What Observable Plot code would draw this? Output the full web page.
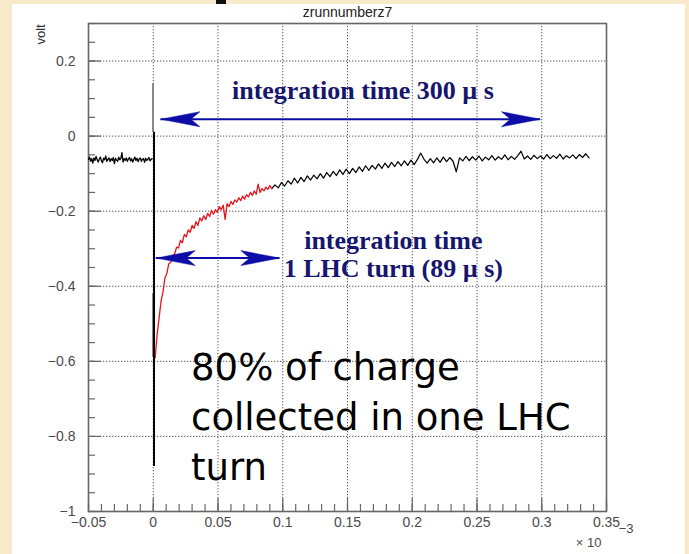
<!DOCTYPE html>
<html><head><meta charset="utf-8">
<script src="https://cdn.jsdelivr.net/npm/d3@7"></script>
<script src="https://cdn.jsdelivr.net/npm/@observablehq/plot@0.6"></script>
<style>
html,body{margin:0;padding:0}
body{width:689px;height:554px;overflow:hidden;position:relative;background:#f9e9cb}
#panel{position:absolute;left:12px;top:4px;width:673px;height:550px;background:#fff}
#blob{position:absolute;left:216px;top:0;width:10px;height:4px;background:#111}
</style></head><body>
<div id="blob"></div>
<div id="panel"></div>
<script>
// ---- axes / ticks ----
const xMajor = [-0.05, 0, 0.05, 0.1, 0.15, 0.2, 0.25, 0.3, 0.35];
const yMajor = [-1, -0.8, -0.6, -0.4, -0.2, 0, 0.2];
const xMinor = d3.range(0, 41).map(i => +(-0.05 + i * 0.01).toFixed(3));
const yMinor = d3.range(0, 27).map(i => +(-1 + i * 0.05).toFixed(3));

// ---- trace: pre-trigger baseline (sampled every preDX from preX0) ----
const preX0 = -0.05, preDX = 0.000833;
const preY = [-0.062,-0.056,-0.067,-0.060,-0.072,-0.058,-0.065,-0.054,-0.063,-0.069,
-0.061,-0.056,-0.066,-0.071,-0.059,-0.063,-0.053,-0.067,-0.062,-0.058,
-0.068,-0.060,-0.065,-0.057,-0.073,-0.059,-0.064,-0.067,-0.056,-0.063,
-0.059,-0.044,-0.069,-0.060,-0.065,-0.058,-0.067,-0.061,-0.057,-0.066,
-0.060,-0.069,-0.062,-0.056,-0.065,-0.059,-0.068,-0.061,-0.058,-0.067,
-0.062,-0.060,-0.070,-0.059,-0.065,-0.061,-0.057,-0.066,-0.062,-0.060];

// ---- trace: first LHC turn (red) ----
const redX0 = 0.0015, redDX = 0.0015;
const redY = [-0.590,-0.528,-0.485,-0.440,-0.415,-0.378,-0.366,-0.340,-0.336,-0.318,
-0.314,-0.296,-0.298,-0.278,-0.284,-0.262,-0.268,-0.250,-0.256,-0.238,
-0.246,-0.228,-0.238,-0.218,-0.226,-0.212,-0.222,-0.206,-0.214,-0.198,
-0.208,-0.196,-0.203,-0.188,-0.196,-0.184,-0.222,-0.180,-0.188,-0.174,
-0.182,-0.170,-0.176,-0.164,-0.172,-0.160,-0.168,-0.156,-0.162,-0.150,
-0.158,-0.146,-0.155,-0.128,-0.150,-0.140,-0.146,-0.136,-0.142,-0.132,-0.140];

// ---- trace: rest of integration window (black) ----
const postX0 = 0.0915, postDX = 0.0025;
const postY = [-0.140,-0.130,-0.138,-0.124,-0.133,-0.119,-0.128,-0.112,-0.125,-0.110,
-0.121,-0.106,-0.117,-0.104,-0.114,-0.100,-0.112,-0.097,-0.108,-0.094,
-0.105,-0.090,-0.102,-0.088,-0.100,-0.086,-0.097,-0.082,-0.094,-0.079,
-0.091,-0.078,-0.088,-0.074,-0.086,-0.072,-0.084,-0.070,-0.081,-0.068,
-0.079,-0.066,-0.078,-0.064,-0.076,-0.062,-0.045,-0.061,-0.072,-0.060,
-0.071,-0.058,-0.070,-0.056,-0.068,-0.057,-0.067,-0.095,-0.058,-0.066,
-0.054,-0.065,-0.055,-0.064,-0.053,-0.066,-0.056,-0.063,-0.052,-0.064,
-0.055,-0.062,-0.050,-0.063,-0.054,-0.062,-0.052,-0.040,-0.061,-0.053,
-0.062,-0.051,-0.060,-0.053,-0.061,-0.049,-0.060,-0.052,-0.059,-0.048,
-0.061,-0.052,-0.058,-0.050,-0.060,-0.049,-0.057,-0.047,-0.058];

// ---- trigger spike at t = 0 ----
const spikeBlackX = [0.0006], spikeBlackTop = [0.010], spikeBlackBottom = [-0.88];
const spikeGrayX = [-0.0002, -0.0002], spikeGrayTop = [0.14, -0.42], spikeGrayBottom = [0.01, -0.59];

// ---- annotation arrows ----
const arrowX1 = [0.0059, 0.0023], arrowX2 = [0.299, 0.0977], arrowY = [0.045, -0.325];

// ---- annotation texts ----
const blueText = ["integration time 300 \u00b5 s", "integration time\n1 LHC turn (89 \u00b5 s)"];
const blueX = [0.1619, 0.1854], blueY = [0.0987, -0.376];
const blackText = ["80% of charge\ncollected in one LHC\nturn"];
const blackX = [0.0292], blackY = [-0.917];

const pre = preY.map((y, i) => ({x: preX0 + i * preDX, y}));
const red = redY.map((y, i) => ({x: redX0 + i * redDX, y}));
const post = postY.map((y, i) => ({x: postX0 + i * postDX, y}));
const spikeBlack = spikeBlackX.map((x, i) => ({x, y1: spikeBlackTop[i], y2: spikeBlackBottom[i]}));
const spikeGray = spikeGrayX.map((x, i) => ({x, y1: spikeGrayTop[i], y2: spikeGrayBottom[i]}));
const arrows = arrowY.map((y, i) => ({x1: arrowX1[i], x2: arrowX2[i], y}));
const blueNotes = blueText.map((text, i) => ({text, x: blueX[i], y: blueY[i]}));
const blackNotes = blackText.map((text, i) => ({text, x: blackX[i], y: blackY[i]}));

const fmt = d => (d < 0 ? "\u2212" : "") + String(+Math.abs(d).toFixed(3));
const axisColor = "#666", labelColor = "#4a4a4a", navy = "#16166e", arrowBlue = "#0c0ca6";

const headLeft = {draw(ctx) { ctx.moveTo(0, 0); ctx.lineTo(39, -7.5); ctx.lineTo(30, 0); ctx.lineTo(39, 7.5); ctx.closePath(); }};
const headRight = {draw(ctx) { ctx.moveTo(0, 0); ctx.lineTo(-39, -7.5); ctx.lineTo(-30, 0); ctx.lineTo(-39, 7.5); ctx.closePath(); }};

const chart = Plot.plot({
  width: 673, height: 550,
  marginLeft: 76, marginRight: 79, marginTop: 19, marginBottom: 43,
  x: {domain: [-0.05, 0.35], label: null},
  y: {domain: [-1, 0.3], label: null},
  style: {background: "#fff", fontFamily: "'Liberation Sans', Arial, sans-serif", fontSize: "14px", color: labelColor},
  marks: [
    Plot.gridX(xMajor.filter(v => v > -0.05 && v < 0.35), {stroke: "#555", strokeOpacity: 1, strokeDasharray: "1.3,1.7", strokeWidth: 1}),
    Plot.gridY(yMajor.filter(v => v > -1), {stroke: "#555", strokeOpacity: 1, strokeDasharray: "1.3,1.7", strokeWidth: 1}),
    Plot.axisX(xMinor, {tickSize: -7, stroke: axisColor, strokeWidth: 1.2, tickFormat: () => "", label: null}),
    Plot.axisX(xMajor, {tickSize: -13, tickPadding: 19, stroke: axisColor, strokeWidth: 1.2, fill: labelColor, tickFormat: fmt, label: null}),
    Plot.axisY(yMinor, {tickSize: -7, stroke: axisColor, strokeWidth: 1.2, tickFormat: () => "", label: null}),
    Plot.axisY(yMajor, {tickSize: -13, tickPadding: 26, stroke: axisColor, strokeWidth: 1.2, fill: labelColor, tickFormat: fmt, label: null}),
    Plot.frame({stroke: axisColor, strokeWidth: 1.6}),
    Plot.text(["zrunnumberz7"], {frameAnchor: "top", lineAnchor: "middle", dy: -11, fontSize: 14, fill: "#222"}),
    Plot.text(["volt"], {frameAnchor: "top-left", lineAnchor: "middle", rotate: -90, dx: -48, dy: 21, fontSize: 13, fill: "#333"}),
    Plot.text(["\u00d7 10"], {frameAnchor: "bottom-right", lineAnchor: "middle", dx: -5, dy: 31, fontSize: 13, fill: labelColor}),
    Plot.text(["\u22123"], {frameAnchor: "bottom-right", lineAnchor: "middle", dx: 27, dy: 17, fontSize: 13, fill: labelColor}),
    // trace
    Plot.line(pre, {x: "x", y: "y", stroke: "#000", strokeWidth: 1.3}),
    Plot.line(post, {x: "x", y: "y", stroke: "#000", strokeWidth: 1.2}),
    Plot.line(red, {x: "x", y: "y", stroke: "#e8141c", strokeWidth: 1.3}),
    Plot.ruleX(spikeGray, {x: "x", y1: "y1", y2: "y2", stroke: "#888", strokeWidth: 2}),
    Plot.ruleX(spikeBlack, {x: "x", y1: "y1", y2: "y2", stroke: "#000", strokeWidth: 2}),
    // arrows
    Plot.ruleY(arrows, {y: "y", x1: "x1", x2: "x2", stroke: arrowBlue, strokeWidth: 2}),
    Plot.dot(arrows, {x: "x1", y: "y", symbol: headLeft, r: 5, fill: arrowBlue, stroke: arrowBlue, strokeWidth: 0.5}),
    Plot.dot(arrows, {x: "x2", y: "y", symbol: headRight, r: 5, fill: arrowBlue, stroke: arrowBlue, strokeWidth: 0.5}),
    // annotations
    Plot.text(blueNotes, {x: "x", y: "y", text: "text", textAnchor: "middle", lineAnchor: "bottom", lineHeight: 1.09,
      fontFamily: "'Liberation Serif', 'Times New Roman', serif", fontWeight: "bold", fontSize: 26, fill: navy}),
    Plot.text(blackNotes, {x: "x", y: "y", text: "text", textAnchor: "start", lineAnchor: "bottom", lineHeight: 1.35,
      fontFamily: "'DejaVu Sans', Verdana, sans-serif", fontSize: 37, fill: "#000"})
  ]
});
document.getElementById("panel").appendChild(chart);
</script></body></html>
